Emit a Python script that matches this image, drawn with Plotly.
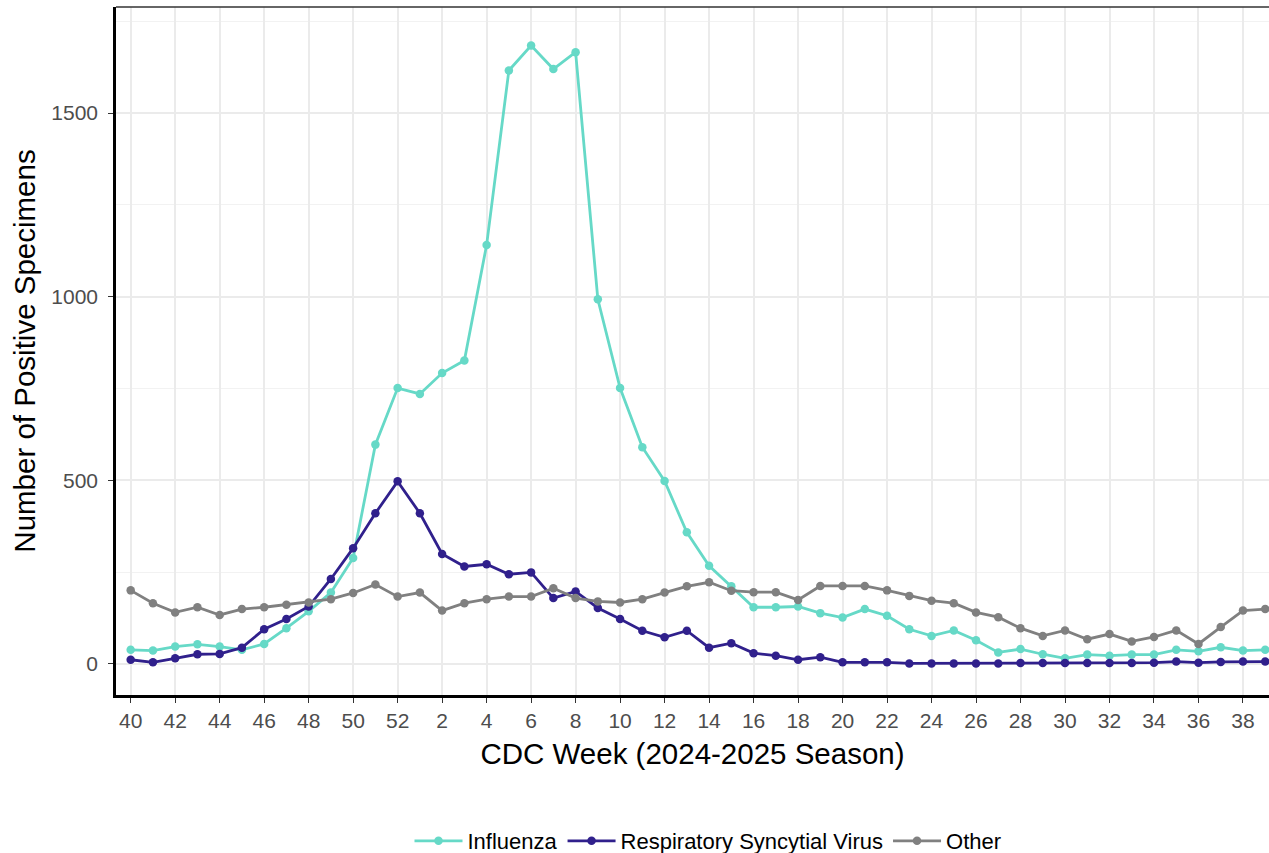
import plotly.graph_objects as go

weeks = [str(w) for w in list(range(40, 53)) + list(range(1, 40))]

influenza = [38, 36, 47, 53, 47, 38, 54, 97, 143, 194,
             288, 597, 751, 735, 792, 826, 1141, 1616, 1684, 1620,
             1666, 993, 751, 590, 498, 358, 267, 211, 154, 154,
             156, 138, 126, 149, 131, 94, 76, 91, 64, 31,
             40, 26, 15, 25, 22, 25, 25, 38, 34, 45, 36, 38]

rsv = [11, 4, 15, 26, 27, 44, 94, 122, 156, 231,
       315, 410, 497, 410, 299, 265, 271, 244, 249, 179,
       197, 152, 122, 90, 72, 90, 44, 56, 29, 22,
       11, 18, 4, 4, 4, 1, 1, 1, 1, 1,
       2, 2, 2, 2, 2, 2, 3, 6, 3, 5, 6, 6]

other = [200, 165, 140, 154, 133, 149, 154, 161, 167, 176,
         193, 216, 183, 194, 145, 165, 176, 183, 183, 206,
         179, 170, 167, 176, 194, 211, 222, 199, 195, 195,
         174, 212, 212, 212, 200, 185, 172, 165, 140, 127,
         97, 76, 91, 67, 81, 61, 73, 91, 54, 100, 145, 149]

series = [("Influenza", influenza, "#66D9C7"),
          ("Respiratory Syncytial Virus", rsv, "#30208C"),
          ("Other", other, "#808080")]

tick_weeks = weeks[::2]

fig = go.Figure()
for name, vals, col in series:
    fig.add_trace(go.Scatter(
        x=weeks, y=vals, name=name, mode="lines+markers",
        line=dict(color=col, width=2.8),
        marker=dict(color=col, size=8.5),
    ))

font = "Liberation Sans, Arial, sans-serif"
fig.update_layout(
    width=1269, height=853,
    margin=dict(l=116, r=0, t=7, b=158, autoexpand=False),
    paper_bgcolor="white", plot_bgcolor="white",
    font=dict(family=font, color="#000000"),
    showlegend=True,
    legend=dict(orientation="h", x=708 / 1269, xref="container", xanchor="center",
                y=(853 - 841) / 853, yref="container", yanchor="middle",
                font=dict(size=22, color="#000000"), itemwidth=48,
                traceorder="normal"),
    xaxis=dict(
        type="category", categoryorder="array", categoryarray=weeks,
        range=[-0.66, 51.17], automargin=False,
        tickmode="array", tickvals=tick_weeks, ticktext=tick_weeks,
        showgrid=True, gridcolor="#EBEBEB", gridwidth=1.5,
        showline=True, linecolor="#000000", linewidth=2.5,
        ticks="outside", ticklen=5, tickcolor="#333333", tickwidth=1,
        tickfont=dict(size=21, color="#4D4D4D"),
        title=dict(text="CDC Week (2024-2025 Season)", font=dict(size=29.5, color="#000000"), standoff=13),
        zeroline=False,
    ),
    yaxis=dict(
        range=[-85, 1789], automargin=False,
        tickmode="array", tickvals=[0, 500, 1000, 1500],
        showgrid=True, gridcolor="#EBEBEB", gridwidth=1.5,
        minor=dict(tickvals=[250, 750, 1250, 1750], showgrid=True, gridcolor="#F2F2F2", gridwidth=1),
        showline=True, linecolor="#000000", linewidth=2.5,
        ticks="outside", ticklen=5, tickcolor="#333333", tickwidth=1,
        ticklabelstandoff=6,
        tickfont=dict(size=21, color="#4D4D4D"),
        title=dict(text="Number of Positive Specimens", font=dict(size=29.5, color="#000000"), standoff=8),
        zeroline=False,
    ),
    shapes=[dict(type="line", xref="paper", yref="paper", x0=0, x1=1, y0=1, y1=1,
                 line=dict(color="#333333", width=1.5))],
)

fig.write_html("out.html", config={"displayModeBar": False},
               post_script="document.body.style.margin='0';document.body.style.overflow='hidden';")
